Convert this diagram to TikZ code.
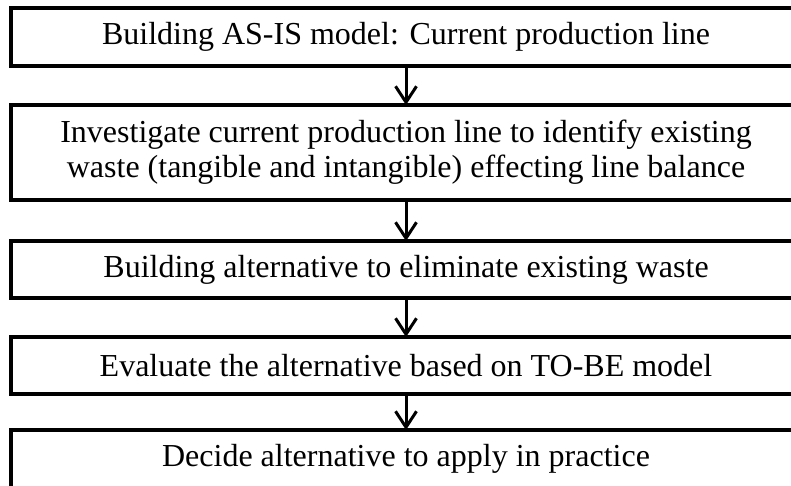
\documentclass[tikz,border=0pt]{standalone}
\usepackage{fontspec}
\setmainfont{Liberation Serif}
\usetikzlibrary{arrows.meta}
\begin{document}
\begin{tikzpicture}[x=1pt,y=1pt,
  stepbox/.style={draw=black, line width=4pt, rectangle, minimum width=790pt,
    inner sep=0pt, outer sep=0pt, align=center,
    font=\fontsize{32}{35}\selectfont},
  flow/.style={line width=3pt,
    -{Straight Barb[length=16pt,width=21pt,line width=3pt]}}
]
\useasboundingbox (0,0) rectangle (791,-486);
% process steps, top to bottom
\node[stepbox, minimum height=58pt] (b1) at (406,-37)
  {Building AS-IS model: Current production line};
\node[stepbox, minimum height=95pt] (b2) at (406,-152.5)
  {Investigate current production line to identify existing\\
   waste (tangible and intangible) effecting line balance};
\node[stepbox, minimum height=57pt] (b3) at (406,-269.5)
  {Building alternative to eliminate existing waste};
\node[stepbox, minimum height=57pt] (b4) at (406,-365.5)
  {Evaluate the alternative based on TO-BE model};
\node[stepbox, minimum height=58pt] (b5) at (406,-459)
  {Decide alternative to apply in practice};
% connectors
\draw[flow] (b1.south) -- (b2.north);
\draw[flow] (b2.south) -- (b3.north);
\draw[flow] (b3.south) -- (b4.north);
\draw[flow] (b4.south) -- (b5.north);
\end{tikzpicture}
\end{document}
